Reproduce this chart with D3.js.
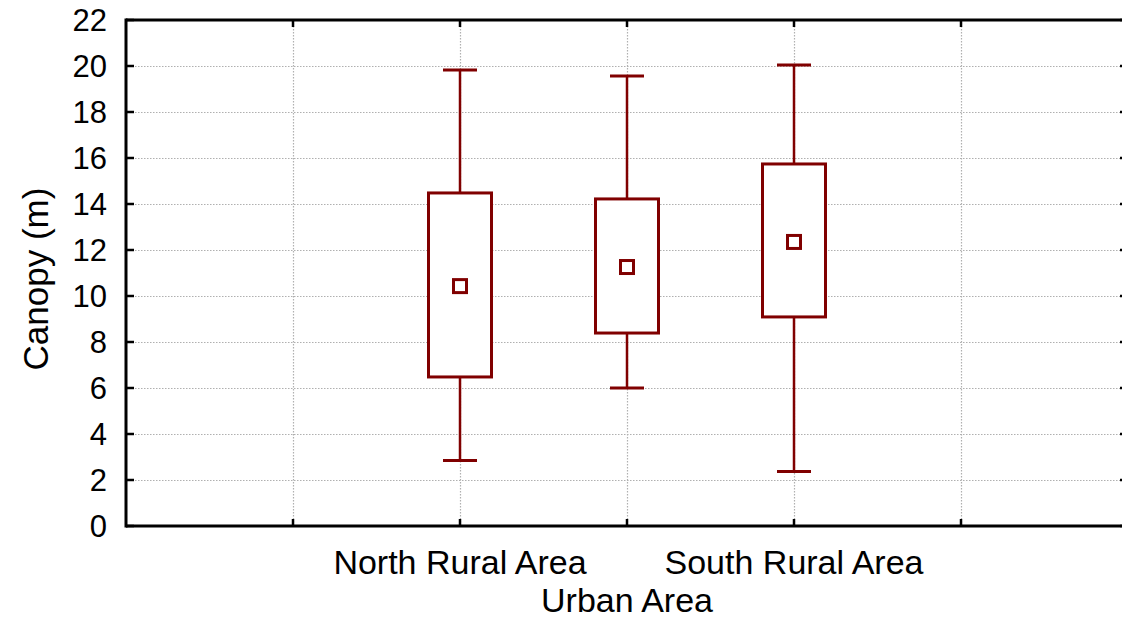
<!doctype html>
<html>
<head>
<meta charset="UTF-8">
<title>Canopy box plot</title>
<script src="https://d3js.org/d3.v7.min.js"></script>
<style>
  body { margin: 0; background: #fff; }
  text { font-family: "Liberation Sans", Arial, sans-serif; fill: #000; }
</style>
</head>
<body>
<svg id="chart" width="1122" height="619"></svg>
<script>
// values
var categories = ["North Rural Area", "Urban Area", "South Rural Area"];
var means = [10.43, 11.26, 12.35];
var boxLow = [6.48, 8.39, 9.09];
var boxHigh = [14.48, 14.22, 15.74];
var whiskerLow = [2.85, 6.0, 2.37];
var whiskerHigh = [19.83, 19.57, 20.04];
var yTicks = [0, 2, 4, 6, 8, 10, 12, 14, 16, 18, 20, 22];

var mLeft = 126, mRight = 1128, mTop = 20, mBottom = 526;
var red = "#800000";

var svg = d3.select("#chart");

// two empty slots either side of the three groups
var slots = ["_a"].concat(categories).concat(["_b"]);
var x = d3.scalePoint().domain(slots).range([mLeft, mRight]).padding(1);
var y = d3.scaleLinear().domain([0, 22]).range([mBottom, mTop]);

// grid
var grid = svg.append("g").attr("stroke", "#b0b0b0").attr("stroke-width", 1.2)
    .attr("stroke-dasharray", "1.5,1.5");
grid.selectAll("line.h").data(yTicks.filter(function (d) { return d > 0 && d < 22; }))
    .enter().append("line")
    .attr("x1", mLeft).attr("x2", mRight)
    .attr("y1", function (d) { return y(d) + 0.5; })
    .attr("y2", function (d) { return y(d) + 0.5; });
grid.selectAll("line.v").data(slots)
    .enter().append("line")
    .attr("y1", mTop).attr("y2", mBottom)
    .attr("x1", function (d) { return x(d) + 0.5; })
    .attr("x2", function (d) { return x(d) + 0.5; });

// frame + ticks
var frame = svg.append("g").attr("stroke", "#000");
frame.append("line").attr("x1", mLeft).attr("x2", mRight).attr("y1", mTop).attr("y2", mTop).attr("stroke-width", 3);
frame.append("line").attr("x1", mLeft).attr("x2", mRight).attr("y1", mBottom).attr("y2", mBottom).attr("stroke-width", 3);
frame.append("line").attr("x1", mLeft).attr("x2", mLeft).attr("y1", mTop - 1.5).attr("y2", mBottom + 1.5).attr("stroke-width", 3);
frame.append("line").attr("x1", mRight).attr("x2", mRight).attr("y1", mTop).attr("y2", mBottom).attr("stroke-width", 3);

frame.selectAll("line.yt").data(yTicks).enter().append("line")
    .attr("stroke-width", 2.5)
    .attr("x1", mLeft).attr("x2", mLeft + 8)
    .attr("y1", function (d) { return y(d); }).attr("y2", function (d) { return y(d); });
frame.selectAll("line.yr").data(yTicks).enter().append("line")
    .attr("stroke-width", 2.5)
    .attr("x1", mRight - 8).attr("x2", mRight)
    .attr("y1", function (d) { return y(d); }).attr("y2", function (d) { return y(d); });
frame.selectAll("line.xb").data(slots).enter().append("line")
    .attr("stroke-width", 2.5)
    .attr("x1", function (d) { return x(d); }).attr("x2", function (d) { return x(d); })
    .attr("y1", mBottom - 7).attr("y2", mBottom);
frame.selectAll("line.xt").data(slots).enter().append("line")
    .attr("stroke-width", 2.5)
    .attr("x1", function (d) { return x(d); }).attr("x2", function (d) { return x(d); })
    .attr("y1", mTop).attr("y2", mTop + 7);

// y tick labels
svg.append("g").selectAll("text").data(yTicks).enter().append("text")
    .attr("x", mLeft - 19)
    .attr("y", function (d) { return y(d) + 11; })
    .attr("text-anchor", "end")
    .attr("font-size", 31)
    .text(function (d) { return d; });

// x labels (middle one staggered down)
svg.append("g").selectAll("text").data(categories).enter().append("text")
    .attr("x", function (d) { return x(d); })
    .attr("y", function (d, i) { return i % 2 ? 612 : 574; })
    .attr("text-anchor", "middle")
    .attr("font-size", 34)
    .text(function (d) { return d; });

// y title
svg.append("text")
    .attr("transform", "translate(48,279) rotate(-90)")
    .attr("text-anchor", "middle")
    .attr("font-size", 35)
    .text("Canopy (m)");

// boxes
var g = svg.append("g").attr("stroke", red).attr("fill", "none");
var boxW = 63, capW = 34, markS = 13;
categories.forEach(function (c, i) {
    var cx = x(c);
    g.append("line").attr("stroke-width", 2.5)
        .attr("x1", cx).attr("x2", cx).attr("y1", y(whiskerHigh[i])).attr("y2", y(boxHigh[i]));
    g.append("line").attr("stroke-width", 2.5)
        .attr("x1", cx).attr("x2", cx).attr("y1", y(boxLow[i])).attr("y2", y(whiskerLow[i]));
    g.append("line").attr("stroke-width", 3)
        .attr("x1", cx - capW / 2).attr("x2", cx + capW / 2)
        .attr("y1", y(whiskerHigh[i])).attr("y2", y(whiskerHigh[i]));
    g.append("line").attr("stroke-width", 3)
        .attr("x1", cx - capW / 2).attr("x2", cx + capW / 2)
        .attr("y1", y(whiskerLow[i])).attr("y2", y(whiskerLow[i]));
    g.append("rect").attr("stroke-width", 3).attr("fill", "#fff")
        .attr("x", cx - boxW / 2).attr("width", boxW)
        .attr("y", y(boxHigh[i])).attr("height", y(boxLow[i]) - y(boxHigh[i]));
    g.append("rect").attr("stroke-width", 3).attr("fill", "#fff")
        .attr("x", cx - markS / 2).attr("width", markS)
        .attr("y", y(means[i]) - markS / 2).attr("height", markS);
});
</script>
</body>
</html>
